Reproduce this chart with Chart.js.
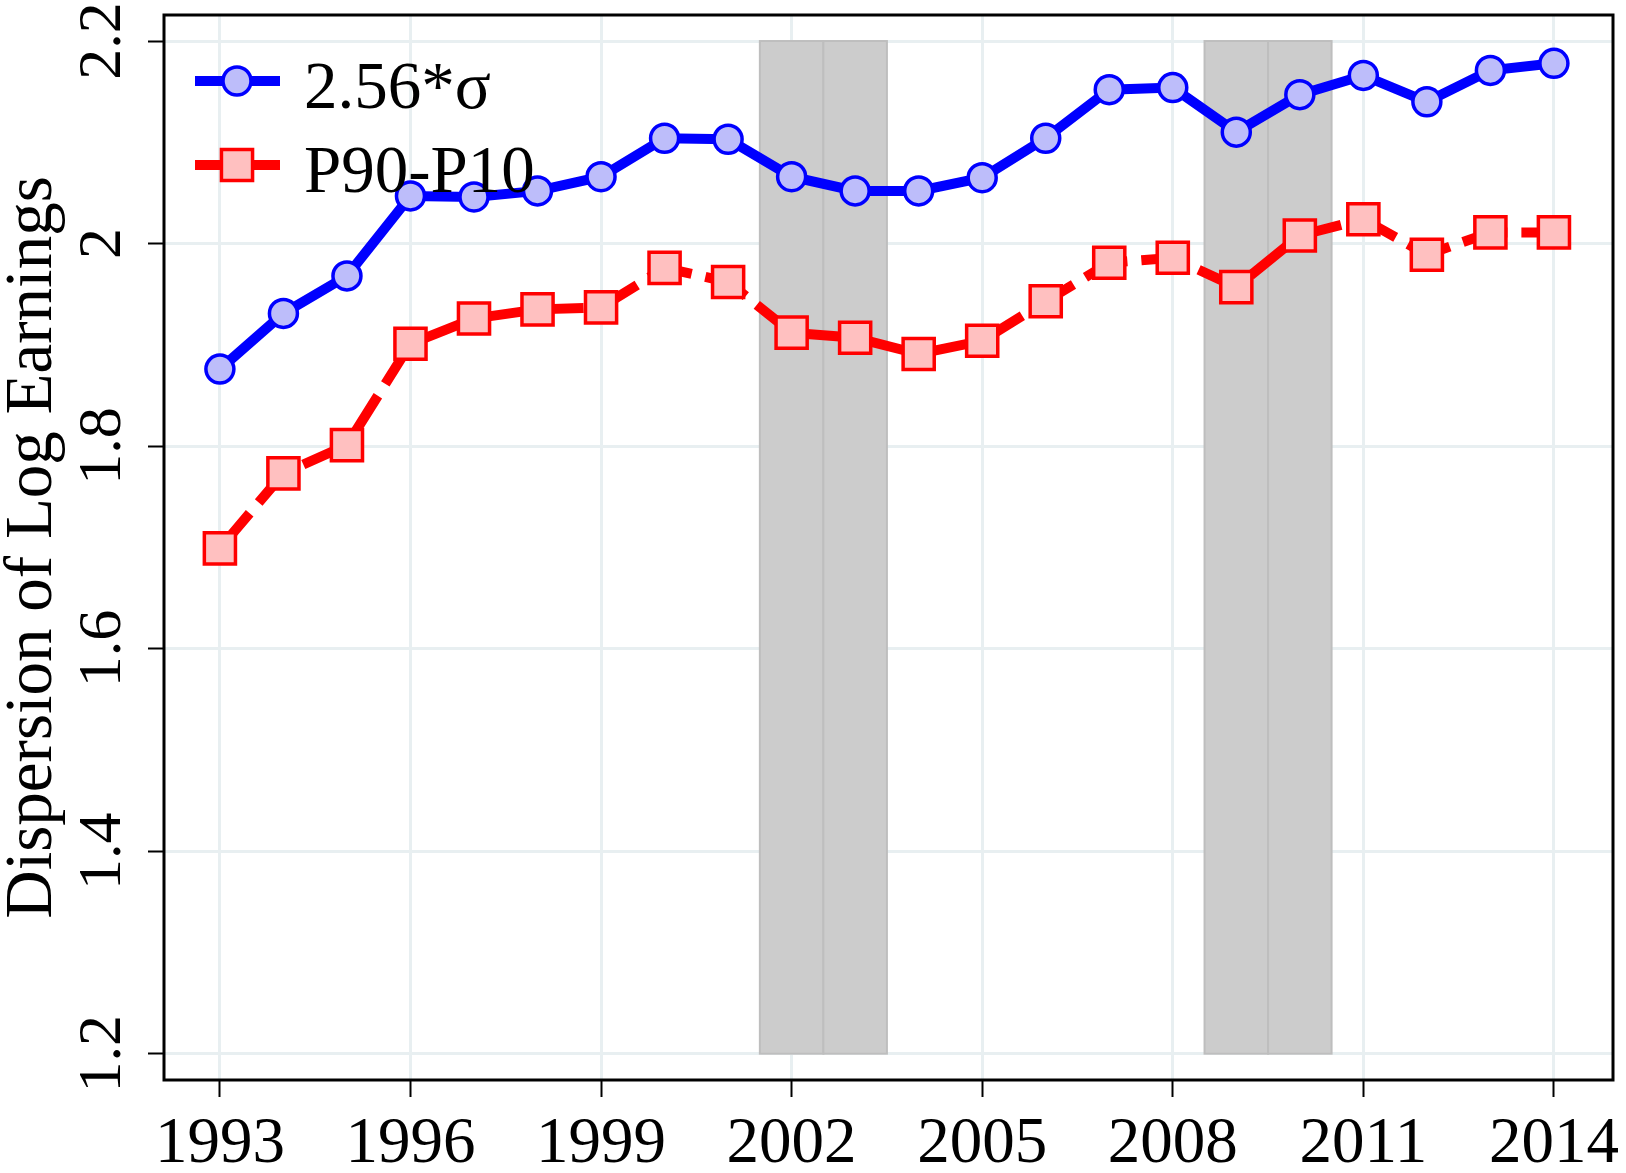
<!DOCTYPE html>
<html>
<head>
<meta charset="utf-8">
<script src="https://cdn.jsdelivr.net/npm/chart.js@4.4.0/dist/chart.umd.min.js"></script>
<style>
  html, body { margin: 0; padding: 0; background: #fff; }
</style>
</head>
<body>
<canvas id="dispChart" width="1626" height="1173"></canvas>
<script>
// values
const years = [1993, 1994, 1995, 1996, 1997, 1998, 1999, 2000, 2001, 2002, 2003,
               2004, 2005, 2006, 2007, 2008, 2009, 2010, 2011, 2012, 2013, 2014];
const sigmaDisp = [1.876, 1.931, 1.968, 2.047, 2.046, 2.052, 2.066, 2.104, 2.103, 2.066, 2.052,
                   2.052, 2.065, 2.104, 2.152, 2.154, 2.110, 2.147, 2.166, 2.140, 2.171, 2.178];
const p90p10 = [1.699, 1.773, 1.801, 1.901, 1.926, 1.935, 1.937, 1.976, 1.962, 1.912, 1.907,
                1.891, 1.904, 1.943, 1.981, 1.986, 1.957, 2.008, 2.024, 1.989, 2.011, 2.011];
const seriesLabels = ['2.56*σ', 'P90-P10'];
const xTickYears = [1993, 1996, 1999, 2002, 2005, 2008, 2011, 2014];
const yTickValues = [1.2, 1.4, 1.6, 1.8, 2.0, 2.2];
// shaded recession years
const recessionBands = [[2001.5, 2002.5], [2002.5, 2003.5], [2008.5, 2009.5], [2009.5, 2010.5]];
const bandTop = 2.2;
const bandBottom = 1.2;

const serif = '"Liberation Serif", "Times New Roman", serif';

const toPoints = vals => vals.map((v, i) => ({ x: years[i], y: v }));

// grey bands behind the lines
const bandsPlugin = {
  id: 'bands',
  beforeDatasetsDraw(chart) {
    const { ctx, scales: { x, y } } = chart;
    ctx.save();
    ctx.fillStyle = '#cccccc';
    ctx.strokeStyle = '#bebebe';
    ctx.lineWidth = 2;
    const yt = y.getPixelForValue(bandTop);
    const yb = y.getPixelForValue(bandBottom);
    recessionBands.forEach(([a, b]) => {
      const xa = x.getPixelForValue(a);
      const xb = x.getPixelForValue(b);
      ctx.fillRect(xa, yt, xb - xa, yb - yt);
      ctx.strokeRect(xa, yt, xb - xa, yb - yt);
    });
    ctx.restore();
  }
};

// box around the plot plus the legend inside it
const frameLegendPlugin = {
  id: 'frameLegend',
  afterDatasetsDraw(chart) {
    const { ctx, chartArea: area } = chart;
    ctx.save();
    ctx.strokeStyle = '#000';
    ctx.lineWidth = 3;
    ctx.strokeRect(area.left, area.top, area.right - area.left, area.bottom - area.top);

    const rows = [66, 150];
    chart.data.datasets.forEach((ds, i) => {
      const cy = area.top + rows[i];
      ctx.strokeStyle = ds.borderColor;
      ctx.lineWidth = ds.borderWidth;
      ctx.setLineDash([]);
      ctx.beginPath();
      ctx.moveTo(area.left + 31, cy);
      ctx.lineTo(area.left + 116, cy);
      ctx.stroke();
      ctx.fillStyle = ds.pointBackgroundColor;
      ctx.strokeStyle = ds.pointBorderColor;
      ctx.lineWidth = ds.pointBorderWidth;
      Chart.helpers.drawPoint(ctx, {
        pointStyle: ds.pointStyle || 'circle',
        radius: ds.pointRadius,
        rotation: 0,
        borderWidth: ds.pointBorderWidth
      }, area.left + 73, cy);
      ctx.fillStyle = '#000';
      ctx.font = '67px ' + serif;
      ctx.textBaseline = 'alphabetic';
      ctx.textAlign = 'left';
      ctx.fillText(ds.label, area.left + 140, cy + 27);
    });
    ctx.restore();
  }
};

function createChart() {
  const ctx = document.getElementById('dispChart').getContext('2d');

  new Chart(ctx, {
    type: 'line',
    data: {
      datasets: [
        {
          label: seriesLabels[0],
          data: toPoints(sigmaDisp),
          borderColor: '#0000ff',
          borderWidth: 10,
          pointStyle: 'circle',
          pointRadius: 14,
          pointBorderWidth: 3.5,
          pointBackgroundColor: '#bdbdfa',
          pointBorderColor: '#0000ff',
          fill: false,
        },
        {
          label: seriesLabels[1],
          data: toPoints(p90p10),
          borderColor: '#ff0000',
          borderWidth: 10,
          borderDash: [46, 14],
          pointStyle: 'rect',
          pointRadius: 22,
          pointBorderWidth: 3.5,
          pointBackgroundColor: '#ffc0c0',
          pointBorderColor: '#ff0000',
          fill: false,
        },
      ],
    },
    options: {
      responsive: false,
      animation: false,
      devicePixelRatio: 1,
      layout: { autoPadding: false, padding: { top: 15, right: 13, left: 0, bottom: 0 } },
      plugins: {
        legend: { display: false },
        tooltip: { enabled: false },
      },
      scales: {
        x: {
          type: 'linear',
          min: 1992.12,
          max: 2014.93,
          afterBuildTicks: s => { s.ticks = xTickYears.map(v => ({ value: v })); },
          afterFit: s => { s.height = 93; s.paddingLeft = 0; s.paddingRight = 0; },
          border: { display: false },
          grid: { color: '#e8eff1', lineWidth: 3, tickColor: '#000', tickLength: 17, tickWidth: 2 },
          ticks: {
            autoSkip: false,
            maxRotation: 0,
            padding: 9,
            color: '#000',
            font: { family: serif, size: 65 },
            callback: v => String(v),
          },
        },
        y: {
          type: 'linear',
          min: 1.174,
          max: 2.2257,
          afterBuildTicks: s => { s.ticks = yTickValues.map(v => ({ value: v })); },
          afterFit: s => { s.width = 164; s.paddingTop = 0; s.paddingBottom = 0; },
          border: { display: false },
          grid: { color: '#e8eff1', lineWidth: 3, tickColor: '#000', tickLength: 16, tickWidth: 2 },
          ticks: {
            minRotation: 90,
            maxRotation: 90,
            crossAlign: 'center',
            padding: 6,
            color: '#000',
            font: { family: serif, size: 62 },
            callback: v => String(+v.toFixed(1)),
          },
          title: {
            display: true,
            text: 'Dispersion of Log Earnings',
            color: '#000',
            padding: 0,
            font: { family: serif, size: 67, lineHeight: 1.0 },
          },
        },
      },
    },
    plugins: [bandsPlugin, frameLegendPlugin],
  });
}

window.onload = createChart;
</script>
</body>
</html>
